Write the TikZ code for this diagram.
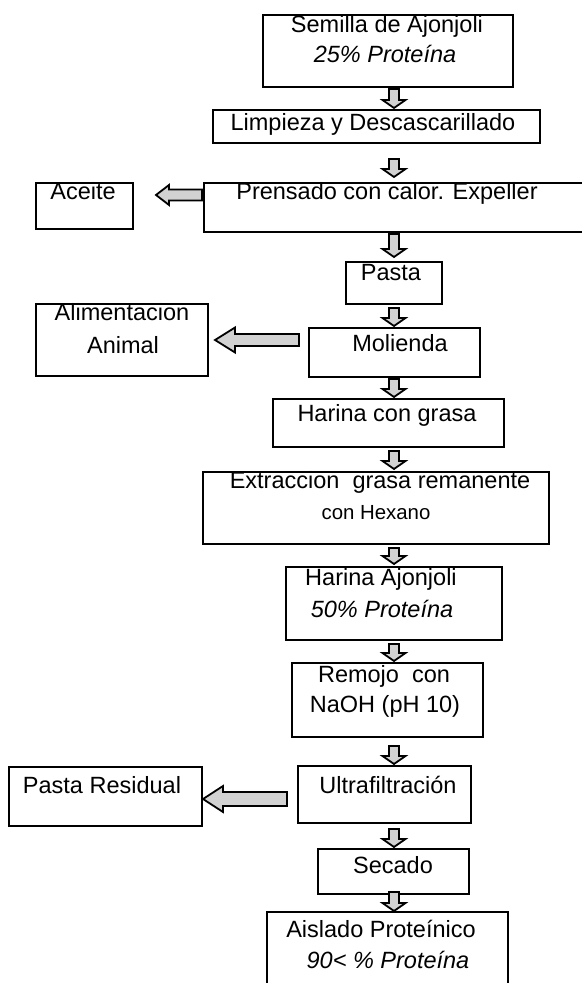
\documentclass[tikz,border=0pt]{standalone}
\usepackage{fontspec}
\setmainfont{Liberation Sans}
\usetikzlibrary{calc,fit}
\tikzset{
  procbox/.style={draw=black, line width=1pt, inner sep=0pt},
  txt/.style={anchor=base, inner sep=0pt, font=\fontsize{11.75}{14}\selectfont},
  smalltxt/.style={anchor=base, inner sep=0pt, font=\fontsize{10.2}{12}\selectfont},
  fatstyle/.style={draw=black, line width=0.9pt, fill=gray!35, line join=miter},
}
\newcommand\fatarr[5]{%
  \coordinate (faS) at #1; \coordinate (faE) at #2;
  \coordinate (faH) at ($(faE)!#5!(faS)$);
  \draw[fatstyle] ($(faS)!#3!90:(faE)$) -- ($(faH)!#3!-90:(faS)$) -- ($(faH)!#4!-90:(faS)$) -- (faE)
     -- ($(faH)!#4!90:(faS)$) -- ($(faH)!#3!90:(faS)$) -- ($(faS)!#3!-90:(faE)$) -- cycle;}
\begin{document}
\begin{tikzpicture}[x=0.5pt,y=-0.5pt]
\clip (0,0) rectangle (582,983);
\fill[white] (0,0) rectangle (582,983);
\coordinate (ax) at (394,0);
\coordinate (yAc) at (0,195);
\coordinate (yAl) at (0,340);
\coordinate (yPr) at (0,799);
% boxes
\node[procbox, fit={(263,15) (513,87)}] (semilla) {};
\node[procbox, fit={(213,110) (540,143)}] (limpieza) {};
\node[procbox, fit={(204,183) (600,232)}] (prensado) {};
\node[procbox, fit={(36,183) (133,229)}] (aceite) {};
\node[procbox, fit={(346,262) (442,304)}] (pasta) {};
\node[procbox, fit={(36,304) (208,376)}] (alim) {};
\node[procbox, fit={(309,328) (480,377)}] (molienda) {};
\node[procbox, fit={(273,399) (504,447)}] (harina) {};
\node[procbox, fit={(203,472) (549,544)}] (extr) {};
\node[procbox, fit={(286,567) (502,640)}] (harinaaj) {};
\node[procbox, fit={(292,663) (483,737)}] (remojo) {};
\node[procbox, fit={(298,766) (471,823)}] (ultra) {};
\node[procbox, fit={(9,767) (202,826)}] (presid) {};
\node[procbox, fit={(318,849) (469,894)}] (secado) {};
\node[procbox, fit={(267,912) (508,1010)}] (aislado) {};
% texts
\node[txt] (t1) at (387,33) {Semilla de Ajonjoli};
\node[txt] (t2) at (385,63) {\itshape 25\% Proteína};
\node[txt] (t3) at (373,131) {Limpieza y Descascarillado};
\node[txt] (t4) at (387,200) {Prensado con calor. Expeller};
\node[txt] (t5) at (83,200) {Aceite};
\node[txt] (t6) at (391,281) {Pasta};
\node[txt] (t7) at (122,321) {Alimentacion};
\node[txt] (t8) at (123,354) {Animal};
\node[txt] (t9) at (400,352) {Molienda};
\node[txt] (t10) at (387,421) {Harina con grasa};
\node[txt] (t11) at (380,488) {Extraccion\ \ grasa remanente};
\node[smalltxt] (t12) at (376,519) {con Hexano};
\node[txt] (t13) at (381,585) {Harina Ajonjoli};
\node[txt] (t14) at (382,617) {\itshape 50\% Proteína};
\node[txt] (t15) at (384,682) {Remojo\ \ con};
\node[txt] (t16) at (385,712) {NaOH (pH 10)};
\node[txt] (t17) at (388,793) {Ultrafiltración};
\node[txt] (t18) at (102,793) {Pasta Residual};
\node[txt] (t19) at (393,873) {Secado};
\node[txt] (t20) at (381,937) {Aislado Proteínico};
\node[txt] (t21) at (388,968) {\itshape 90< \% Proteína};
% down arrows
\fatarr{($(semilla.south -| ax)+(0,1)$)}{($(limpieza.north -| ax)+(0,-1)$)}{2.5pt}{5.75pt}{4pt}
\fatarr{($(limpieza.south -| ax)+(0,15)$)}{($(prensado.north -| ax)+(0,-5)$)}{2.5pt}{5.75pt}{4pt}
\fatarr{($(prensado.south -| ax)+(0,1)$)}{($(pasta.north -| ax)+(0,-4)$)}{2.5pt}{5.75pt}{4pt}
\fatarr{($(pasta.south -| ax)+(0,3)$)}{($(molienda.north -| ax)+(0,-1)$)}{2.5pt}{5.75pt}{4pt}
\fatarr{($(molienda.south -| ax)+(0,1)$)}{($(harina.north -| ax)+(0,-1)$)}{2.5pt}{5.75pt}{4pt}
\fatarr{($(harina.south -| ax)+(0,3)$)}{($(extr.north -| ax)+(0,-2)$)}{2.5pt}{5.75pt}{4pt}
\fatarr{($(extr.south -| ax)+(0,3)$)}{($(harinaaj.north -| ax)+(0,-2)$)}{2.5pt}{5.75pt}{4pt}
\fatarr{($(harinaaj.south -| ax)+(0,3)$)}{($(remojo.north -| ax)+(0,-1)$)}{2.5pt}{5.75pt}{4pt}
\fatarr{($(remojo.south -| ax)+(0,8)$)}{($(ultra.north -| ax)+(0,-1)$)}{2.5pt}{5.75pt}{4pt}
\fatarr{($(ultra.south -| ax)+(0,5)$)}{($(secado.north -| ax)+(0,-1)$)}{2.5pt}{5.75pt}{4pt}
\fatarr{($(secado.south -| ax)+(0,-3)$)}{(aislado.north -| ax)}{2.5pt}{5.75pt}{4pt}
% side arrows
\fatarr{($(prensado.west |- yAc)+(-1,0)$)}{($(aceite.east |- yAc)+(22,0)$)}{2.75pt}{5pt}{6.5pt}
\fatarr{($(molienda.west |- yAl)+(-9,0)$)}{($(alim.east |- yAl)+(6,0)$)}{3pt}{6.25pt}{10pt}
\fatarr{($(ultra.west |- yPr)+(-10,0)$)}{(presid.east |- yPr)}{3.5pt}{6.5pt}{10pt}
\end{tikzpicture}
\end{document}
